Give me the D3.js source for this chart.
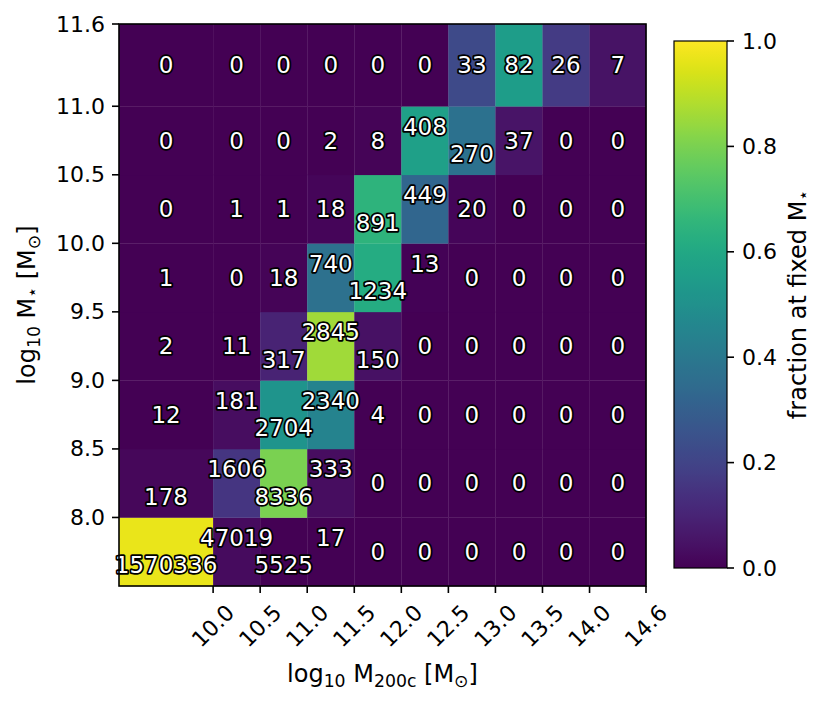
<!DOCTYPE html>
<html>
<head>
<meta charset="utf-8">
<title>Stellar mass vs halo mass</title>
<script src="https://d3js.org/d3.v7.min.js"></script>
<style>
  body { margin: 0; background: #fff; }
  text { font-family: "DejaVu Sans", sans-serif; fill: #000; }
</style>
</head>
<body>
<svg id="mainsvg" width="829" height="705"></svg>
<script>
// ---------- data ----------
// bin edges (log10 masses)
const haloEdges = [9.0, 10.0, 10.5, 11.0, 11.5, 12.0, 12.5, 13.0, 13.5, 14.0, 14.6];
const stellarEdges = [7.5, 8.0, 8.5, 9.0, 9.5, 10.0, 10.5, 11.0, 11.6];
// tick labels
const haloTicks = [10.0, 10.5, 11.0, 11.5, 12.0, 12.5, 13.0, 13.5, 14.0, 14.6];
const stellarTicks = [8.0, 8.5, 9.0, 9.5, 10.0, 10.5, 11.0, 11.6];
const colorTicks = [0.0, 0.2, 0.4, 0.6, 0.8, 1.0];
// galaxy counts: one row per stellar-mass bin (bottom to top), one column per halo bin
const counts = [
  [1570336, 47019, 5525, 17, 0, 0, 0, 0, 0, 0],
  [178, 1606, 8336, 333, 0, 0, 0, 0, 0, 0],
  [12, 181, 2704, 2340, 4, 0, 0, 0, 0, 0],
  [2, 11, 317, 2845, 150, 0, 0, 0, 0, 0],
  [1, 0, 18, 740, 1234, 13, 0, 0, 0, 0],
  [0, 1, 1, 18, 891, 449, 20, 0, 0, 0],
  [0, 0, 0, 2, 8, 408, 270, 37, 0, 0],
  [0, 0, 0, 0, 0, 0, 33, 82, 26, 7]
];

// ---------- canvas ----------
const svg = d3.select("#mainsvg");
const plot = {left: 119, right: 646, top: 24, bottom: 586};
const cbar = {left: 674, right: 727, top: 41, bottom: 568};
const tickLen = 7;
const fs = 22;      // tick labels
const ts = 24;      // axis titles

const x = d3.scaleLinear().domain([haloEdges[0], haloEdges[haloEdges.length - 1]]).range([plot.left, plot.right]);
const y = d3.scaleLinear().domain([stellarEdges[0], stellarEdges[stellarEdges.length - 1]]).range([plot.bottom, plot.top]);
const color = d3.scaleSequential(d3.interpolateViridis).domain([0, 1]);

// flatten cells, fraction normalised per stellar-mass row
const cells = [];
counts.forEach((row, i) => {
  const total = d3.sum(row);
  row.forEach((c, j) => cells.push({i, j, count: c, frac: total > 0 ? c / total : 0}));
});

const g = svg.append("g");
g.selectAll("rect.cell").data(cells).join("rect")
  .attr("class", "cell")
  .attr("x", d => x(haloEdges[d.j]))
  .attr("width", d => x(haloEdges[d.j + 1]) - x(haloEdges[d.j]) + 0.3)
  .attr("y", d => y(stellarEdges[d.i + 1]))
  .attr("height", d => y(stellarEdges[d.i]) - y(stellarEdges[d.i + 1]) + 0.3)
  .attr("fill", d => color(d.frac));

// labels: shift up/down when a label would collide with its neighbour
const digits = v => String(v).length;
function shifted(d) {
  const row = counts[d.i];
  const nb = [row[d.j - 1], row[d.j + 1]].filter(v => v !== undefined);
  return nb.some(v => digits(v) + digits(d.count) >= 6);
}
g.selectAll("text.cnt").data(cells).join("text")
  .attr("class", "cnt")
  .attr("x", d => (x(haloEdges[d.j]) + x(haloEdges[d.j + 1])) / 2)
  .attr("y", d => {
    let yc = (stellarEdges[d.i] + stellarEdges[d.i + 1]) / 2;
    if (shifted(d)) yc += (d.j % 2 === 0 ? -0.1 : 0.1);
    return y(yc);
  })
  .attr("text-anchor", "middle")
  .attr("dominant-baseline", "central")
  .attr("font-size", 23)
  .style("fill", "#fff")
  .attr("stroke", "#000")
  .attr("stroke-width", 3.5)
  .attr("stroke-linejoin", "round")
  .attr("paint-order", "stroke")
  .text(d => d.count);

// frame
svg.append("rect")
  .attr("x", plot.left).attr("y", plot.top)
  .attr("width", plot.right - plot.left).attr("height", plot.bottom - plot.top)
  .attr("fill", "none").attr("stroke", "#000").attr("stroke-width", 1.6);

// ---------- axes ----------
const xAxis = svg.append("g").attr("transform", `translate(0, ${plot.bottom})`);
xAxis.selectAll("line").data(haloTicks).join("line")
  .attr("x1", d => x(d)).attr("x2", d => x(d))
  .attr("y1", 0).attr("y2", tickLen)
  .attr("stroke", "#000").attr("stroke-width", 1.6);
xAxis.selectAll("text").data(haloTicks).join("text")
  .attr("transform", d => `translate(${x(d)}, 40) rotate(-45)`)
  .attr("text-anchor", "middle")
  .attr("dominant-baseline", "central")
  .attr("font-size", fs)
  .text(d => d3.format(".1f")(d));

const yAxis = svg.append("g").attr("transform", `translate(${plot.left}, 0)`);
yAxis.selectAll("line").data(stellarTicks).join("line")
  .attr("x1", -tickLen).attr("x2", 0)
  .attr("y1", d => y(d)).attr("y2", d => y(d))
  .attr("stroke", "#000").attr("stroke-width", 1.6);
yAxis.selectAll("text").data(stellarTicks).join("text")
  .attr("x", -tickLen - 7)
  .attr("y", d => y(d))
  .attr("text-anchor", "end")
  .attr("dominant-baseline", "central")
  .attr("font-size", fs)
  .text(d => d3.format(".1f")(d));

// axis titles: plain parts {t}, subscripts {sub}
function mathLabel(sel, parts, size) {
  let shift = 0;
  parts.forEach(p => {
    if (p.sub) {
      const dy = p.dy || 5;
      sel.append("tspan").attr("dy", dy - shift).attr("font-size", size * 0.72).text(p.sub);
      shift = dy;
    } else {
      sel.append("tspan").attr("dy", -shift).text(p.t);
      shift = 0;
    }
  });
}
const xTitle = svg.append("text")
  .attr("x", (plot.left + plot.right) / 2).attr("y", 682)
  .attr("text-anchor", "middle").attr("font-size", ts);
mathLabel(xTitle, [{t: "log"}, {sub: "10"}, {t: " M"}, {sub: "200c"}, {t: " [M"}, {sub: "⊙"}, {t: "]"}], ts);

const yTitle = svg.append("text")
  .attr("transform", `translate(35, ${(plot.top + plot.bottom) / 2}) rotate(-90)`)
  .attr("text-anchor", "middle").attr("font-size", ts);
mathLabel(yTitle, [{t: "log"}, {sub: "10"}, {t: " M"}, {sub: "⋆", dy: 3}, {t: " [M"}, {sub: "⊙"}, {t: "]"}], ts);

// ---------- colorbar ----------
const cy = d3.scaleLinear().domain([0, 1]).range([cbar.bottom, cbar.top]);
const grad = svg.append("defs").append("linearGradient")
  .attr("id", "viridis").attr("x1", 0).attr("y1", 1).attr("x2", 0).attr("y2", 0);
grad.selectAll("stop").data(d3.range(0, 1.0001, 0.02)).join("stop")
  .attr("offset", d => d)
  .attr("stop-color", d => color(d));
svg.append("rect")
  .attr("x", cbar.left).attr("y", cbar.top)
  .attr("width", cbar.right - cbar.left).attr("height", cbar.bottom - cbar.top)
  .attr("fill", "url(#viridis)")
  .attr("stroke", "#000").attr("stroke-width", 1.2);
const cAxis = svg.append("g").attr("transform", `translate(${cbar.right}, 0)`);
cAxis.selectAll("line").data(colorTicks).join("line")
  .attr("x1", 0).attr("x2", tickLen)
  .attr("y1", d => cy(d)).attr("y2", d => cy(d))
  .attr("stroke", "#000").attr("stroke-width", 1.6);
cAxis.selectAll("text").data(colorTicks).join("text")
  .attr("x", tickLen + 8)
  .attr("y", d => cy(d))
  .attr("dominant-baseline", "central")
  .attr("font-size", fs)
  .text(d => d3.format(".1f")(d));

const cTitle = svg.append("text")
  .attr("transform", `translate(806, ${(cbar.top + cbar.bottom) / 2}) rotate(-90)`)
  .attr("text-anchor", "middle").attr("font-size", ts);
mathLabel(cTitle, [{t: "fraction at fixed M"}, {sub: "⋆", dy: 3}], ts);
</script>
</body>
</html>
